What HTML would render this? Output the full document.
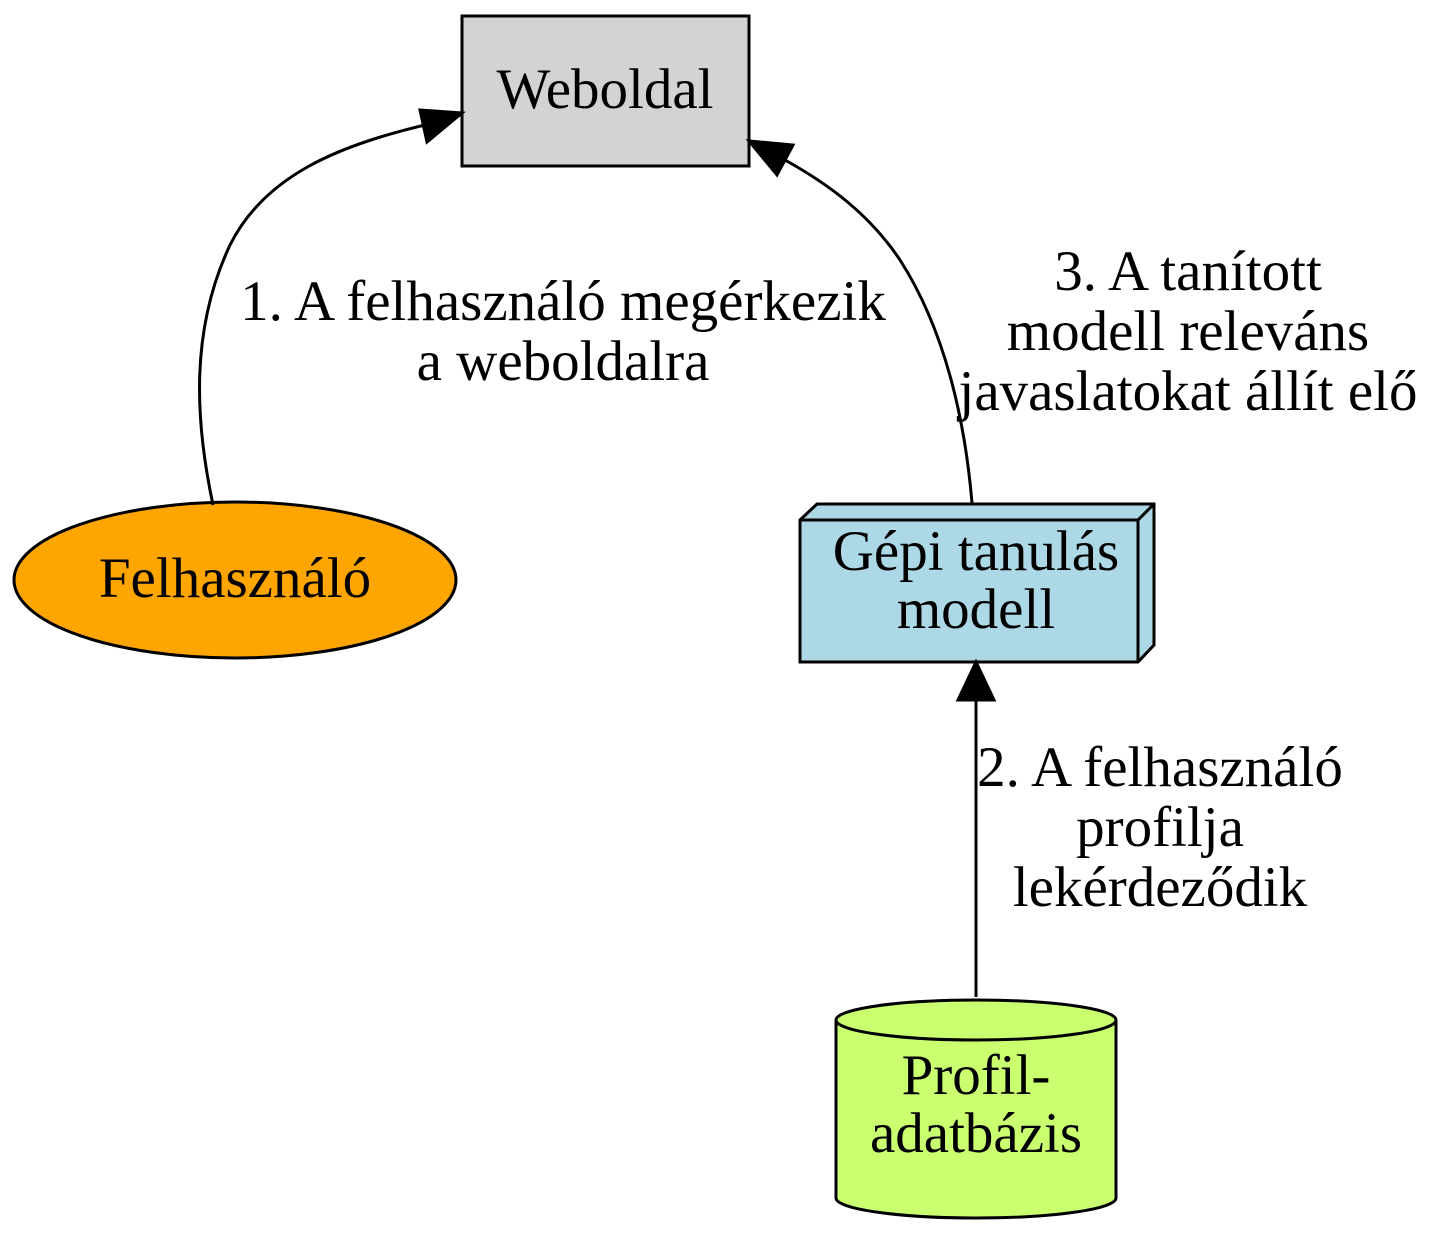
<!DOCTYPE html>
<html><head><meta charset="utf-8"><style>html,body{margin:0;padding:0;background:#fff}svg{display:block}text{font-size:57px}</style></head>
<body>
<svg width="1436" height="1234" viewBox="0 0 1436 1234" xmlns="http://www.w3.org/2000/svg" font-family="'Liberation Serif', serif" font-size="57" text-anchor="middle">
<g stroke="#000" stroke-width="3">
<rect x="462" y="16" width="287" height="150" fill="#d3d3d3"/>
<ellipse cx="235" cy="580" rx="221" ry="78" fill="#ffa500"/>
<polygon points="800,520 817,504 1154,504 1154,645 1138,662 800,662" fill="#add8e6"/>
<polyline points="800,520 1138,520 1154,504" fill="none"/>
<line x1="1138" y1="520" x2="1138" y2="662"/>
<path d="M836,1020 L836,1198 A140,20 0 0 0 1116,1198 L1116,1020 A140,20 0 0 0 836,1020 A140,20 0 0 0 1116,1020" fill="#caff70"/>
<path d="M213,505 C195,420 190,330 230,245 C265,175 340,145 425,125" fill="none"/>
<path d="M972,503 C965,420 945,330 900,260 C870,215 830,185 785,160" fill="none"/>
<line x1="976" y1="997" x2="976" y2="700"/>
</g>
<g fill="#000" stroke="#000" stroke-width="3">
<polygon points="462,113 427,142 420,110"/>
<polygon points="749,141 793,145 777,175"/>
<polygon points="976,662 958,700 994,700"/>
</g>
<g fill="#000">
<text x="605" y="108">Weboldal</text>
<text x="235" y="597">Felhasználó</text>
<text x="976" y="570">Gépi tanulás</text>
<text x="976" y="628">modell</text>
<text x="976" y="1094">Profil-</text>
<text x="976" y="1152">adatbázis</text>
<text x="563" y="320">1. A felhasználó megérkezik</text>
<text x="563" y="380">a weboldalra</text>
<text x="1188" y="290">3. A tanított</text>
<text x="1188" y="350">modell releváns</text>
<text x="1188" y="410">javaslatokat állít elő</text>
<text x="1160" y="786">2. A felhasználó</text>
<text x="1160" y="846">profilja</text>
<text x="1160" y="906">lekérdeződik</text>
</g>
</svg>
</body></html>
